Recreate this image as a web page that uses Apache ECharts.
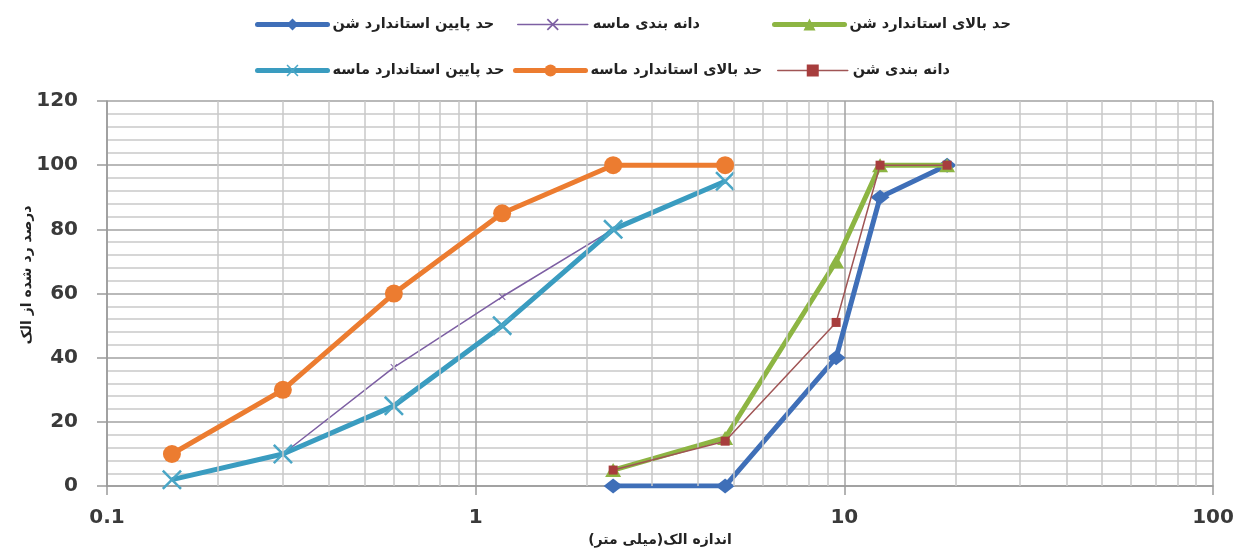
<!DOCTYPE html>
<html>
<head>
<meta charset="utf-8">
<script src="https://cdn.jsdelivr.net/npm/echarts@6/dist/echarts.min.js"></script>
<style>
  html, body { margin: 0; padding: 0; background: #fff; }
  #chart { width: 1246px; height: 552px; }
</style>
</head>
<body>
<div id="chart"></div>
<script>
// Sieve sizes (mm)
const sandSieves = [0.15, 0.3, 0.6, 1.18, 2.36, 4.75];
const gravelSieves = [2.36, 4.75, 9.5, 12.5, 19];

// Percent passing
const gravelLower = [0, 0, 40, 90, 100];
const sandGrading = [2, 10, 37, 59, 80, 95];
const gravelUpper = [5, 15, 70, 100, 100];
const sandLower = [2, 10, 25, 50, 80, 95];
const sandUpper = [10, 30, 60, 85, 100, 100];
const gravelGrading = [5, 14, 51, 100, 100];

// Series names
const nGravelLower = 'حد پایین استاندارد شن';
const nSandGrading = 'دانه بندی ماسه';
const nGravelUpper = 'حد بالای استاندارد شن';
const nSandLower = 'حد پایین استاندارد ماسه';
const nSandUpper = 'حد بالای استاندارد ماسه';
const nGravelGrading = 'دانه بندی شن';

// Axis ticks and titles
const yTicks = { min: 0, max: 120, interval: 20 };
const xRange = { min: 0.1, max: 100 };
const xTitle = 'اندازه الک(میلی متر)';
const yTitle = 'درصد رد شده از الک';

const FONT = 'DejaVu Sans';
const pairs = (xs, ys) => xs.map((x, i) => [x, ys[i]]);

// Minor log grid positions: 2..9 within each decade
const minorX = [];
[0.1, 1, 10].forEach(d => { for (let k = 2; k <= 9; k++) minorX.push(+(d * k).toFixed(4)); });

const crossPath = 'path://M0,0.9 L0.9,0 L5,4.1 L9.1,0 L10,0.9 L5.9,5 L10,9.1 L9.1,10 L5,5.9 L0.9,10 L0,9.1 L4.1,5 Z';
const starPath = 'path://M0,1 L1,0 L5,4 L9,0 L10,1 L6,5 L10,9 L9,10 L5,6 L1,10 L0,9 L4,5 Z';

const C = {
  blue: '#3f6fb8',
  purple: '#7d5fa3',
  green: '#8db543',
  teal: '#3a9cc0',
  orange: '#ec7c30',
  red: '#a73d3d'
};

const chart = echarts.init(document.getElementById('chart'), null, { renderer: 'canvas' });

function legendAt(name, left, top, lineWidth) {
  return {
    data: [name],
    left: left, top: top,
    itemWidth: 70, itemHeight: 15, itemGap: 4,
    selectedMode: false,
    lineStyle: { width: lineWidth, cap: 'round' },
    textStyle: { fontFamily: FONT, fontWeight: 'bold', fontSize: 14.5, color: '#222' }
  };
}

chart.setOption({
  animation: false,
  backgroundColor: '#ffffff',
  grid: { left: 107, right: 33, top: 101, bottom: 64 },
  legend: [
    legendAt(nGravelLower, 250, 12, 5),
    legendAt(nSandGrading, 512, 12, 1.5),
    legendAt(nGravelUpper, 767, 12, 5),
    legendAt(nSandLower, 250, 58, 5),
    legendAt(nSandUpper, 508, 58, 5),
    legendAt(nGravelGrading, 772, 58, 1.5)
  ],
  xAxis: {
    type: 'log', logBase: 10, min: xRange.min, max: xRange.max,
    name: xTitle, nameLocation: 'middle', nameGap: 43,
    nameTextStyle: { fontFamily: FONT, fontWeight: 'bold', fontSize: 14, color: '#222' },
    axisLine: { show: true, lineStyle: { color: '#9a9a9a', width: 1.5 } },
    axisTick: { show: true, length: 9, lineStyle: { color: '#9a9a9a', width: 1.5 } },
    axisLabel: { fontFamily: FONT, fontWeight: 'bold', fontSize: 20, color: '#3a3a3a', margin: 22,
      formatter: v => String(v) },
    splitLine: { show: true, lineStyle: { color: '#a2a2a2', width: 1.5 } }
  },
  yAxis: {
    type: 'value', min: yTicks.min, max: yTicks.max, interval: yTicks.interval,
    axisLine: { show: true, lineStyle: { color: '#9a9a9a', width: 1.5 } },
    axisTick: { show: true, length: 10, lineStyle: { color: '#9a9a9a', width: 1.5 } },
    axisLabel: { fontFamily: FONT, fontWeight: 'bold', fontSize: 20, color: '#3a3a3a', margin: 29 },
    splitLine: { show: true, lineStyle: { color: '#a2a2a2', width: 1.5 } },
    minorTick: { show: false, splitNumber: 5 },
    minorSplitLine: { show: true, lineStyle: { color: '#c9c9c9', width: 1.5 } }
  },
  graphic: [{
    type: 'text',
    x: 27, y: 275,
    rotation: Math.PI / 2,
    style: {
      text: yTitle,
      fontFamily: FONT, fontWeight: 'bold', fontSize: 14, fill: '#222',
      align: 'center', verticalAlign: 'middle'
    }
  }],
  series: [
    {
      name: 'minor-grid', type: 'line', data: [], z: 1, silent: true,
      markLine: {
        silent: true, symbol: ['none', 'none'], label: { show: false },
        lineStyle: { color: '#c9c9c9', width: 1.5, type: 'solid' },
        emphasis: { disabled: true },
        data: minorX.map(v => ({ xAxis: v }))
      }
    },
    {
      name: nGravelLower, type: 'line', z: 3,
      data: pairs(gravelSieves, gravelLower),
      color: C.blue,
      lineStyle: { width: 5, color: C.blue },
      symbol: 'diamond', symbolSize: [19, 15],
      itemStyle: { color: C.blue }
    },
    {
      name: nGravelUpper, type: 'line', z: 4,
      data: pairs(gravelSieves, gravelUpper),
      color: C.green,
      lineStyle: { width: 5, color: C.green },
      symbol: 'triangle', symbolSize: [16, 14],
      itemStyle: { color: C.green }
    },
    {
      name: nGravelGrading, type: 'line', z: 5,
      data: pairs(gravelSieves, gravelGrading),
      color: C.red,
      lineStyle: { width: 1.5, color: '#a05555' },
      symbol: 'rect', symbolSize: 9,
      itemStyle: { color: C.red }
    },
    {
      name: nSandGrading, type: 'line', z: 3,
      data: pairs(sandSieves, sandGrading),
      color: C.purple,
      lineStyle: { width: 1.5, color: C.purple },
      symbol: starPath, symbolSize: 7,
      itemStyle: { color: C.purple }
    },
    {
      name: nSandLower, type: 'line', z: 4,
      data: pairs(sandSieves, sandLower),
      color: C.teal,
      lineStyle: { width: 5, color: C.teal },
      symbol: crossPath, symbolSize: 20,
      itemStyle: { color: '#4aa6c6' }
    },
    {
      name: nSandUpper, type: 'line', z: 5,
      data: pairs(sandSieves, sandUpper),
      color: C.orange,
      lineStyle: { width: 5, color: C.orange },
      symbol: 'circle', symbolSize: 18,
      itemStyle: { color: C.orange }
    }
  ]
});
</script>
</body>
</html>
